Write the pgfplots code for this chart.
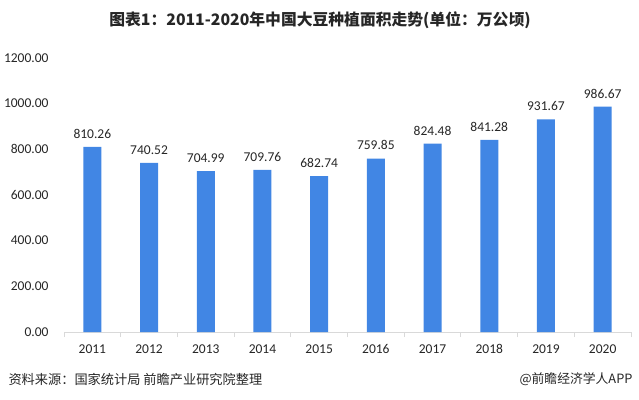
\documentclass[border=0pt]{standalone}
\usepackage{pgfplots}
\pgfplotsset{compat=1.18}
\usepackage{fontspec}
\setmainfont{Carlito}
\newfontfamily\cjk{Noto Sans CJK SC}
\definecolor{barblue}{RGB}{65,134,228}
\definecolor{txt}{RGB}{38,38,38}
\definecolor{axgray}{RGB}{217,217,217}
\begin{document}
\begin{tikzpicture}[x=1pt,y=1pt]
\path[use as bounding box] (0,0) rectangle (639,399);
\node[anchor=center,font=\cjk\bfseries\fontsize{15.8}{17}\selectfont,text=txt] at (320,379) {图表1：2011-2020年中国大豆种植面积走势(单位：万公顷)};
\begin{axis}[
  at={(64pt,67pt)}, anchor=south west,
  scale only axis, width=567pt, height=274pt,
  xmin=-0.5, xmax=9.5, ymin=0, ymax=1200,
  axis x line*=bottom, axis y line*=left,
  x axis line style={axgray, line width=1pt},
  y axis line style={draw=none},
  ytick={0,200,...,1200},
  xtick={0,...,9},
  xticklabels={2011,2012,2013,2014,2015,2016,2017,2018,2019,2020},
  major tick length=0pt,
  extra x ticks={-0.5,0.5,...,9.5},
  extra x tick labels={},
  extra x tick style={major tick length=5pt, tick style={axgray, line width=1pt}, xtick align=outside},
  ticklabel style={font=\fontsize{13.5}{15}\selectfont, text=txt},
  xticklabel style={anchor=base, yshift=-21pt, text height=1.5ex, text depth=0pt},
  yticklabel style={anchor=east, xshift=-12pt},
  /pgf/number format/.cd, fixed, fixed zerofill, precision=2, 1000 sep={}, assume math mode=true,
  /pgfplots/.cd,
  ybar, bar width=18pt,
  point meta=explicit symbolic,
  nodes near coords,
  nodes near coords style={font=\fontsize{13.5}{15}\selectfont, text=txt, yshift=5pt},
  clip=false,
]
\addplot[fill=barblue, draw=none] coordinates {
(0,810.26) [810.26]
(1,740.52) [740.52]
(2,704.99) [704.99]
(3,709.76) [709.76]
(4,682.74) [682.74]
(5,759.85) [759.85]
(6,824.48) [824.48]
(7,841.28) [841.28]
(8,931.67) [931.67]
(9,986.67) [986.67]
};
\end{axis}
\node[anchor=west,font=\cjk\fontsize{13.2}{15}\selectfont,text=txt] at (5,20) {资料来源：国家统计局 前瞻产业研究院整理};
\node[anchor=east,font=\cjk\fontsize{12.8}{15}\selectfont,text=txt] at (636,20) {@前瞻经济学人APP};
\end{tikzpicture}
\end{document}
